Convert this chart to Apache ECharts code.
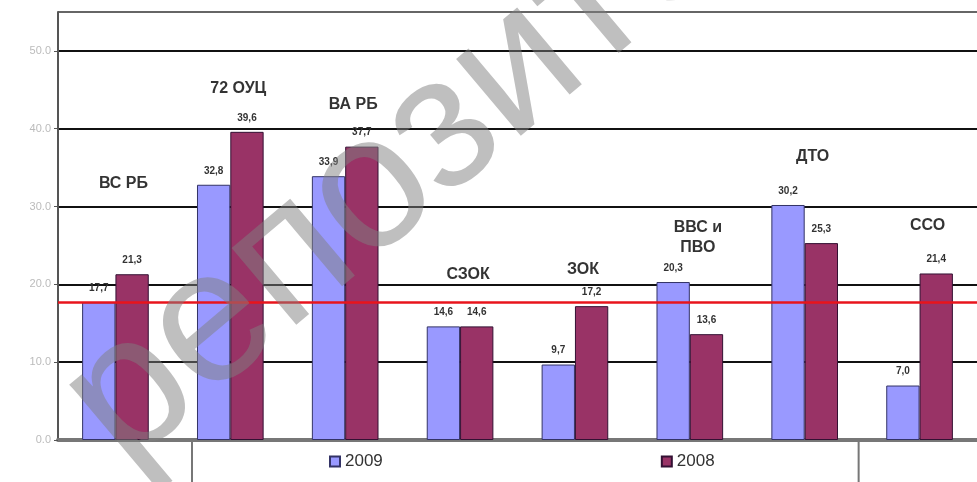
<!DOCTYPE html>
<html><head><meta charset="utf-8">
<script src="https://cdn.jsdelivr.net/npm/echarts@6/dist/echarts.min.js"></script>
<style>html,body{margin:0;padding:0;background:#fff}#c{width:977px;height:482px}</style>
</head><body><div id="c"></div>
<script>
const categories = ['ВС РБ', '72 ОУЦ', 'ВА РБ', 'СЗОК', 'ЗОК', 'ВВС и\nПВО', 'ДТО', 'ССО'];
const values2009 = [17.7, 32.8, 33.9, 14.6, 9.7, 20.3, 30.2, 7.0];
const values2008 = [21.3, 39.6, 37.7, 14.6, 17.2, 13.6, 25.3, 21.4];
const seriesNames = ['2009', '2008'];
const referenceLevel = 17.7;
const yTicks = [0, 10, 20, 30, 40, 50];
// heights (in axis units) at which the unit names are written
const nameLevels = [33.0, 45.2, 43.1, 21.2, 21.9, 26.0, 36.4, 27.6];
const watermark = 'репозиторий';

const chart = echarts.init(document.getElementById('c'), null, {renderer: 'canvas'});
const fmt = v => v.toFixed(1).replace('.', ',');
const valueLabel = {
  show: true, position: 'top', distance: 9, formatter: p => fmt(p.value),
  color: '#333', fontSize: 10, fontWeight: 'bold', fontFamily: 'Liberation Sans, Arial'
};

chart.setOption({
  animation: false,
  backgroundColor: '#fff',
  grid: {left: 58, right: -8, top: 12, bottom: 42, containLabel: false},
  legend: {
    data: seriesNames,
    left: 192, top: 441,
    padding: [12, 144, 20, 137],
    itemGap: 278,
    itemWidth: 10, itemHeight: 10,
    icon: 'rect',
    borderColor: '#777', borderWidth: 2,
    textStyle: {fontFamily: 'Liberation Sans, Arial', fontSize: 17, color: '#333'}
  },
  xAxis: {
    type: 'category',
    data: categories,
    axisLine: {show: true, lineStyle: {color: '#777', width: 4}},
    axisTick: {show: false},
    axisLabel: {show: false},
    splitLine: {show: false}
  },
  yAxis: {
    type: 'value',
    min: yTicks[0], max: 55, interval: 10,
    axisLine: {show: true, lineStyle: {color: '#555', width: 2}},
    axisTick: {show: true, length: 4, lineStyle: {color: '#555'}},
    axisLabel: {
      showMaxLabel: false,
      margin: 7,
      color: '#bbbbbb', fontSize: 11, fontFamily: 'Liberation Sans, Arial',
      formatter: v => yTicks.includes(v) ? v.toFixed(1) : ''
    },
    splitLine: {show: true, lineStyle: {color: ['#555', '#111', '#111', '#111', '#111', '#111', '#666'], width: 2}}
  },
  series: [
    {
      name: seriesNames[0], type: 'bar', data: values2009,
      barGap: '0%', barCategoryGap: '42%',
      itemStyle: {color: '#9999ff', borderColor: '#333366', borderWidth: 1},
      label: valueLabel,
      markLine: {
        silent: true, symbol: 'none', label: {show: false},
        lineStyle: {color: '#e8141c', width: 2.5, type: 'solid'},
        data: [{yAxis: referenceLevel}]
      }
    },
    {
      name: seriesNames[1], type: 'bar', data: values2008,
      itemStyle: {color: '#993366', borderColor: '#331133', borderWidth: 1},
      label: valueLabel
    },
    {
      name: 'names', type: 'scatter', data: nameLevels, symbolSize: 0,
      silent: true, z: 5,
      label: {show: true, position: 'inside', offset: [8, 0],
        formatter: p => categories[p.dataIndex],
        color: '#000', fontSize: 16, fontWeight: 'bold', lineHeight: 20,
        fontFamily: 'Liberation Sans, Arial'}
    }
  ],
  graphic: [{
    type: 'text', x: 152, y: 502, rotation: 0.70, z: 100, silent: true,
    style: {text: watermark, font: '190px "Liberation Sans", Arial',
      fill: 'rgba(128,128,128,0.5)', textAlign: 'left', textVerticalAlign: 'bottom'}
  }]
});
</script></body></html>
